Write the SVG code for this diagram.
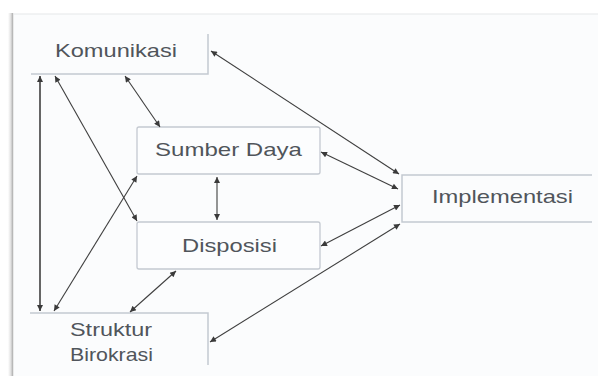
<svg xmlns="http://www.w3.org/2000/svg" width="598" height="376" viewBox="0 0 598 376">
<defs>
<marker id="ah" viewBox="0 0 10 10" refX="10" refY="5" markerWidth="8" markerHeight="6" markerUnits="userSpaceOnUse" orient="auto-start-reverse">
<path d="M0,0 L10,5 L0,10 Z" fill="#3a3a3a"/>
</marker>
<linearGradient id="sh" x1="0" y1="0" x2="1" y2="0">
<stop offset="0" stop-color="#ffffff"/>
<stop offset="1" stop-color="#c9c9c9"/>
</linearGradient>
</defs>
<style>
.box{fill:#fcfdfe;stroke:#c4c9d1;stroke-width:1.3}
.edge{stroke:#c4c9d1;stroke-width:1.5;fill:none}
.t{font-family:"Liberation Sans",Arial,sans-serif;font-size:19px;fill:#50555b}
.c{stroke:#3f3f3f;stroke-width:1.1;fill:none;marker-start:url(#ah);marker-end:url(#ah)}
</style>
<rect x="0" y="0" width="598" height="376" fill="#ffffff"/>
<rect x="13" y="14" width="585" height="362" fill="#fbfcfd"/>
<rect x="8" y="13" width="5" height="363" fill="url(#sh)"/>
<line x1="12.5" y1="13" x2="12.5" y2="376" stroke="#b8b8b8" stroke-width="1.5"/>
<line x1="13" y1="14" x2="598" y2="14" stroke="#e6e7e9" stroke-width="1.2"/>

<g id="komunikasi">
<path class="edge" d="M31,74 L208,74 L208,34"/>
<text class="t" x="55" y="57" textLength="122" lengthAdjust="spacingAndGlyphs">Komunikasi</text>
</g>
<g id="sumber-daya">
<rect class="box" x="137" y="127" width="183" height="47" rx="2"/>
<text class="t" x="155" y="156" textLength="147" lengthAdjust="spacingAndGlyphs">Sumber Daya</text>
</g>
<g id="disposisi">
<rect class="box" x="137" y="222" width="183" height="47" rx="2"/>
<text class="t" x="182" y="252" textLength="95" lengthAdjust="spacingAndGlyphs">Disposisi</text>
</g>
<g id="implementasi">
<path class="edge" d="M592,175 L402,175 L402,222 L592,222"/>
<text class="t" x="432" y="203" textLength="141" lengthAdjust="spacingAndGlyphs">Implementasi</text>
</g>
<g id="struktur-birokrasi">
<path class="edge" d="M30,313 L208,313 L208,365"/>
<text class="t" x="70" y="336" textLength="82" lengthAdjust="spacingAndGlyphs">Struktur</text>
<text class="t" x="70" y="361" textLength="83" lengthAdjust="spacingAndGlyphs">Birokrasi</text>
</g>

<g id="connectors">
<line class="c" x1="211" y1="51" x2="399" y2="174"/>
<line class="c" x1="125" y1="76" x2="160" y2="127"/>
<line class="c" x1="55" y1="76" x2="137" y2="221"/>
<line class="c" x1="40" y1="76" x2="40" y2="311" style="stroke-width:1.8;stroke:#555"/>
<line class="c" x1="137" y1="176" x2="54" y2="311"/>
<line class="c" x1="217" y1="177" x2="217" y2="220"/>
<line class="c" x1="176" y1="271" x2="130" y2="312"/>
<line class="c" x1="210" y1="342" x2="400" y2="224"/>
<line class="c" x1="321" y1="152" x2="398" y2="189"/>
<line class="c" x1="321" y1="246" x2="400" y2="205"/>
</g>
</svg>
